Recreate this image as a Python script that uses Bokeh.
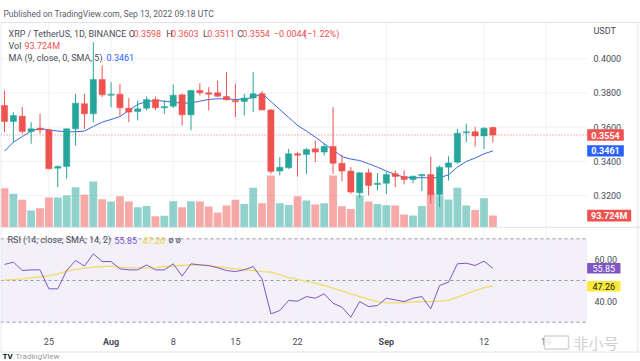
import pandas as pd
from bokeh.plotting import figure
from bokeh.models import Range1d
from bokeh.core.properties import value
from bokeh.embed import file_html
from bokeh.resources import INLINE

# ---------------- data ----------------
dates = pd.date_range("2022-07-20", "2022-09-13", freq="D")

opens = [0.3727, 0.3633, 0.3664, 0.3575, 0.3594, 0.3584, 0.3360, 0.3370, 0.3590, 0.3737,
         0.3678, 0.3879, 0.3787, 0.3793, 0.3711, 0.3692, 0.3711, 0.3762, 0.3713, 0.3723,
         0.3789, 0.3672, 0.3815, 0.3801, 0.3801, 0.3779, 0.3756, 0.3750, 0.3770, 0.3795,
         0.3701, 0.3343, 0.3362, 0.3444, 0.3440, 0.3473, 0.3454, 0.3487, 0.3389, 0.3343,
         0.3216, 0.3333, 0.3265, 0.3272, 0.3327, 0.3311, 0.3294, 0.3315, 0.3323, 0.3206,
         0.3366, 0.3395, 0.3567, 0.3573, 0.3549, 0.3598]
highs = [0.3815, 0.3688, 0.3717, 0.3629, 0.3678, 0.3590, 0.3376, 0.3592, 0.3795, 0.3795,
         0.4097, 0.3961, 0.3863, 0.3854, 0.3772, 0.3756, 0.3779, 0.3779, 0.3756, 0.3850,
         0.3795, 0.3818, 0.3857, 0.3834, 0.3873, 0.3922, 0.3854, 0.3795, 0.3922, 0.3811,
         0.3707, 0.3425, 0.3473, 0.3454, 0.3479, 0.3522, 0.3503, 0.3717, 0.3440, 0.3366,
         0.3337, 0.3356, 0.3331, 0.3337, 0.3347, 0.3347, 0.3317, 0.3327, 0.3428, 0.3376,
         0.3430, 0.3590, 0.3620, 0.3600, 0.3600, 0.3603]
lows = [0.3571, 0.3512, 0.3561, 0.3503, 0.3561, 0.3355, 0.3249, 0.3298, 0.3493, 0.3590,
        0.3629, 0.3776, 0.3717, 0.3668, 0.3629, 0.3639, 0.3698, 0.3701, 0.3678, 0.3711,
        0.3610, 0.3581, 0.3785, 0.3698, 0.3776, 0.3756, 0.3659, 0.3668, 0.3688, 0.3698,
        0.3327, 0.3317, 0.3356, 0.3311, 0.3327, 0.3395, 0.3434, 0.3327, 0.3284, 0.3210,
        0.3187, 0.3200, 0.3230, 0.3210, 0.3249, 0.3265, 0.3272, 0.3226, 0.3152, 0.3132,
        0.3288, 0.3386, 0.3512, 0.3487, 0.3473, 0.3511]
closes = [0.3633, 0.3668, 0.3575, 0.3590, 0.3584, 0.3356, 0.3370, 0.3590, 0.3740, 0.3678,
          0.3879, 0.3789, 0.3793, 0.3713, 0.3688, 0.3707, 0.3762, 0.3713, 0.3721, 0.3787,
          0.3672, 0.3815, 0.3801, 0.3793, 0.3781, 0.3760, 0.3748, 0.3770, 0.3795, 0.3701,
          0.3341, 0.3366, 0.3444, 0.3436, 0.3469, 0.3454, 0.3487, 0.3389, 0.3343, 0.3220,
          0.3333, 0.3259, 0.3272, 0.3323, 0.3311, 0.3294, 0.3313, 0.3323, 0.3206, 0.3366,
          0.3391, 0.3565, 0.3573, 0.3549, 0.3594, 0.3554]
volumes_m = [313, 268, 220, 134, 153, 238, 238, 254, 321, 260,
             367, 225, 206, 249, 206, 161, 171, 88, 91, 209,
             161, 209, 206, 166, 118, 174, 220, 187, 316, 193,
             415, 193, 179, 249, 214, 182, 193, 415, 169, 147,
             254, 206, 187, 177, 174, 102, 94, 171, 273, 254,
             222, 316, 174, 139, 233, 93.724]
ma9 = [0.3460, 0.3512, 0.3545, 0.3577, 0.3592, 0.3584, 0.3577, 0.3573, 0.3573, 0.3577,
       0.3604, 0.3629, 0.3645, 0.3662, 0.3698, 0.3733, 0.3750, 0.3756, 0.3752, 0.3746,
       0.3740, 0.3742, 0.3752, 0.3762, 0.3766, 0.3766, 0.3762, 0.3764, 0.3774, 0.3797,
       0.3750, 0.3703, 0.3657, 0.3610, 0.3577, 0.3542, 0.3503, 0.3467, 0.3428, 0.3413,
       0.3405, 0.3386, 0.3366, 0.3343, 0.3323, 0.3308, 0.3304, 0.3304, 0.3304, 0.3304,
       0.3321, 0.3366, 0.3399, 0.3419, 0.3444, 0.3461]
rsi = [57.7, 58.8, 54.8, 55.1, 55.1, 46.0, 46.0, 54.8, 59.6, 56.9,
       62.8, 59.1, 59.1, 55.6, 55.1, 55.1, 57.5, 55.1, 55.1, 58.0,
       52.1, 58.0, 57.5, 57.2, 56.1, 54.8, 54.3, 55.1, 56.7, 50.8,
       34.0, 35.6, 40.4, 40.1, 42.3, 41.5, 43.6, 39.1, 37.2, 32.4,
       39.9, 37.5, 38.0, 41.5, 40.7, 39.9, 41.5, 42.3, 36.4, 47.6,
       49.2, 58.0, 58.3, 57.2, 59.3, 55.85]
rsi_ma = [50.2, 50.5, 50.8, 51.3, 51.8, 52.2, 53.2, 54.5, 55.3, 55.9,
          56.4, 56.7, 56.9, 56.4, 56.1, 56.1, 56.1, 56.2, 56.6, 56.9,
          57.2, 57.5, 57.4, 57.0, 56.6, 56.1, 55.6, 55.3, 54.8, 54.3,
          54.0, 52.7, 51.4, 50.5, 49.5, 48.7, 47.6, 46.3, 45.0, 43.6,
          42.3, 40.9, 39.9, 39.3, 39.3, 39.4, 39.8, 39.9, 39.9, 40.1,
          40.6, 42.0, 43.6, 45.2, 46.6, 47.26]

price_ticks = [0.32, 0.34, 0.36, 0.38, 0.40]
rsi_ticks = [40, 60]
rsi_bands = [70, 50, 30]
date_ticks = ["2022-07-25", "2022-08-01", "2022-08-08", "2022-08-15",
              "2022-08-22", "2022-09-01", "2022-09-12", "2022-09-19"]
date_tick_labels = ["25", "Aug", "8", "15", "22", "Sep", "12", "19"]

# ---------------- styling ----------------
UP, DOWN = "#26a69a", "#ef5350"
MA_BLUE, RSI_PURPLE, RSI_YELLOW = "#3d66e0", "#7e57c2", "#f0dc6a"
TXT, GRID, BORDER = "#4a4d57", "#eff1f6", "#e0e3eb"
FONT = "Roboto"

xs = [(d - dates[0]).days for d in dates]
tick_xs = [(pd.Timestamp(t) - dates[0]).days for t in date_ticks]
up = [c >= o for o, c in zip(opens, closes)]
col = [UP if u else DOWN for u in up]

# geometry: the frame shows reference pixels X 0..640, Y 0..361
W, H = 640, 361
DAY_PX, X0 = 8.88, 4.0
PPX = 0.02 / 34.18          # price per pixel
VPX = 0.1245                # pixel per million volume
RPX = 2.085                 # pixel per RSI unit

p = figure(width=W, height=H, output_backend="svg", toolbar_location=None,
           x_range=Range1d(-X0 / DAY_PX, (W - X0) / DAY_PX),
           y_range=Range1d(0.40 - (H - 58.3) * PPX, 0.40 + 58.3 * PPX),
           x_axis_location=None, y_axis_location=None,
           min_border=0, min_border_left=0, min_border_right=0,
           min_border_top=0, min_border_bottom=0,
           outline_line_color=None, background_fill_color="white",
           border_fill_color="white")
p.grid.visible = False
p.extra_x_ranges = {"px": Range1d(0, W)}
p.extra_y_ranges = {
    "pxy": Range1d(H, 0),
    "vol": Range1d((226.7 - H) / VPX, 226.7 / VPX),
    "rsi": Range1d(70 - (H - 238.3) / RPX, 70 + 238.3 / RPX),
}

PANE_R = 586.7

# RSI background band
p.quad(left=[0], right=[PANE_R], top=[rsi_bands[0]], bottom=[rsi_bands[-1]],
       x_range_name="px", y_range_name="rsi",
       fill_color=RSI_PURPLE, fill_alpha=0.09, line_color=None)

# grid
p.segment(x0=tick_xs, x1=tick_xs, y0=[22] * len(tick_xs), y1=[326] * len(tick_xs),
          y_range_name="pxy", line_color=GRID, line_width=1)
p.segment(x0=[0] * len(price_ticks), x1=[PANE_R] * len(price_ticks),
          y0=price_ticks, y1=price_ticks, x_range_name="px",
          line_color=GRID, line_width=1)

# RSI band lines
p.segment(x0=[0] * 3, x1=[PANE_R] * 3, y0=rsi_bands, y1=rsi_bands,
          x_range_name="px", y_range_name="rsi",
          line_color="#9598a1", line_dash="3 3", line_width=1)

# volume
vcol = ["rgba(38,166,154,0.5)" if u else "rgba(239,83,80,0.5)" for u in up]
p.vbar(x=xs, top=volumes_m, bottom=0, width=0.88, y_range_name="vol",
       fill_color=vcol, line_color=None)

# frame lines
p.segment(x0=[0, 0, 0.5, 0, 637.5], x1=[640, 640, 0.5, 640, 637.5],
          y0=[22, 226.9, 22, 351.5, 22], y1=[22, 226.9, 351.5, 351.5, 351.5],
          x_range_name="px", y_range_name="pxy", line_color=BORDER, line_width=1)

# last price line
p.segment(x0=[0], x1=[PANE_R], y0=[closes[-1]], y1=[closes[-1]], x_range_name="px",
          line_color=col[-1], line_dash="1 2", line_width=1, line_alpha=0.8)

# moving average
p.line(xs, ma9, line_color=MA_BLUE, line_width=1)

# candles
p.segment(x0=xs, x1=xs, y0=lows, y1=highs, line_color=col, line_width=1)
p.vbar(x=xs, top=[max(o, c) for o, c in zip(opens, closes)],
       bottom=[min(o, c) for o, c in zip(opens, closes)],
       width=0.7, fill_color=col, line_color=col, line_width=0.5)

# RSI lines
p.line(xs, rsi_ma, y_range_name="rsi", line_color=RSI_YELLOW, line_width=1.3)
p.line(xs, rsi, y_range_name="rsi", line_color=RSI_PURPLE, line_width=1)


def txt(X, Y, s, color, size="9px", align="left", style="normal",
        font=FONT, xr="px", yr="pxy", alpha=1.0):
    kw = {}
    if xr:
        kw["x_range_name"] = xr
    if yr:
        kw["y_range_name"] = yr
    p.text(x=[X], y=[Y], text=[s], text_color=color, text_font=value(font),
           text_font_size=value(size), text_align=align, text_baseline="middle",
           text_font_style=style, text_alpha=alpha, **kw)


# header
txt(3, 13, "Published on TradingView.com, Sep 13, 2022 09:18 UTC", "#5d606b", size="8.5px")
txt(8, 33, "XRP / TetherUS, 1D, BINANCE", TXT)
chg = closes[-1] - opens[-1]
pct = chg / opens[-1] * 100
parts = [(128.3, "O", TXT), (133, f"{opens[-1]:.4f}", DOWN),
         (165.7, "H", TXT), (170.5, f"{highs[-1]:.4f}", DOWN),
         (202.5, "L", TXT), (206.7, f"{lows[-1]:.4f}", DOWN),
         (236.8, "C", TXT), (241.7, f"{closes[-1]:.4f}", DOWN),
         (273.3, f"\u2212{abs(chg):.4f}", DOWN), (303.3, f"(\u2212{abs(pct):.2f}%)", DOWN)]
for X, s, c in parts:
    txt(X, 33, s, c)
txt(8, 45, "Vol", TXT)
txt(24, 45, f"{volumes_m[-1]:.3f}M", DOWN)
txt(8, 57, "MA (9, close, 0, SMA, 5)", TXT)
txt(106, 57, f"{ma9[-1]:.4f}", "#2962ff")

# price scale
txt(593, 30, "USDT", TXT)
for t in price_ticks:
    txt(593, t, f"{t:.4f}", TXT, yr=None)

# price tags
p.rect(x=[605], y=[closes[-1]], width=[36.6], height=[11.7], height_units="screen",
       x_range_name="px", fill_color=col[-1], line_color=None)
txt(605, closes[-1], f"{closes[-1]:.4f}", "white", align="center", style="bold", yr=None)
p.rect(x=[605], y=[ma9[-1]], width=[36.6], height=[11.2], height_units="screen",
       x_range_name="px", fill_color="#2962ff", line_color=None)
txt(605, ma9[-1], f"{ma9[-1]:.4f}", "white", align="center", style="bold", yr=None)
p.rect(x=[608.7], y=[volumes_m[-1]], width=[44], height=[11.7], height_units="screen",
       x_range_name="px", y_range_name="vol", fill_color=col[-1], line_color=None)
txt(608.7, volumes_m[-1], f"{volumes_m[-1]:.3f}M", "white", align="center",
    style="bold", yr="vol")

# RSI legend
txt(7, 239.5, "RSI (14, close, SMA, 14, 2)", TXT)
txt(114, 239.5, f"{rsi[-1]:.2f}", RSI_PURPLE)
txt(142, 239.5, f"{rsi_ma[-1]:.2f}", "#e8d43a")
txt(168, 239.5, "\u00f8  \u00f8", TXT)

# RSI scale
for t in rsi_ticks:
    txt(594, t, f"{t:.2f}", TXT, yr="rsi")
p.rect(x=[603.3], y=[rsi[-1]], width=[33.3], height=[10.6], height_units="screen",
       x_range_name="px", y_range_name="rsi", fill_color=RSI_PURPLE, line_color=None)
txt(603.3, rsi[-1], f"{rsi[-1]:.2f}", "white", align="center", yr="rsi")
p.rect(x=[603.3], y=[rsi_ma[-1]], width=[33.3], height=[10.6], height_units="screen",
       x_range_name="px", y_range_name="rsi", fill_color="#f9e93a", line_color=None)
txt(603.3, rsi_ma[-1], f"{rsi_ma[-1]:.2f}", "#131722", align="center", yr="rsi")

# date axis
for X, s in zip(tick_xs, date_tick_labels):
    st = "bold" if s in ("Aug", "Sep") else "normal"
    txt(X, 341, s, TXT, align="center", style=st, xr=None)

# watermark
p.rect(x=[556], y=[342], width=[24], height=[13], x_range_name="px", y_range_name="pxy",
       fill_color="white", fill_alpha=0.85, line_color="#d6d6d6", line_width=1.5)
txt(573, 342, "非小号", "#cfcfcf", size="15px", font="Noto Sans CJK SC")

# TradingView footer logo
txt(2, 355.5, "TV", "#131722", size="8px", style="bold")
txt(15, 355.5, "TradingView", "#9a9a9a", size="8px")

open("out.html", "w").write(file_html(p, INLINE))
